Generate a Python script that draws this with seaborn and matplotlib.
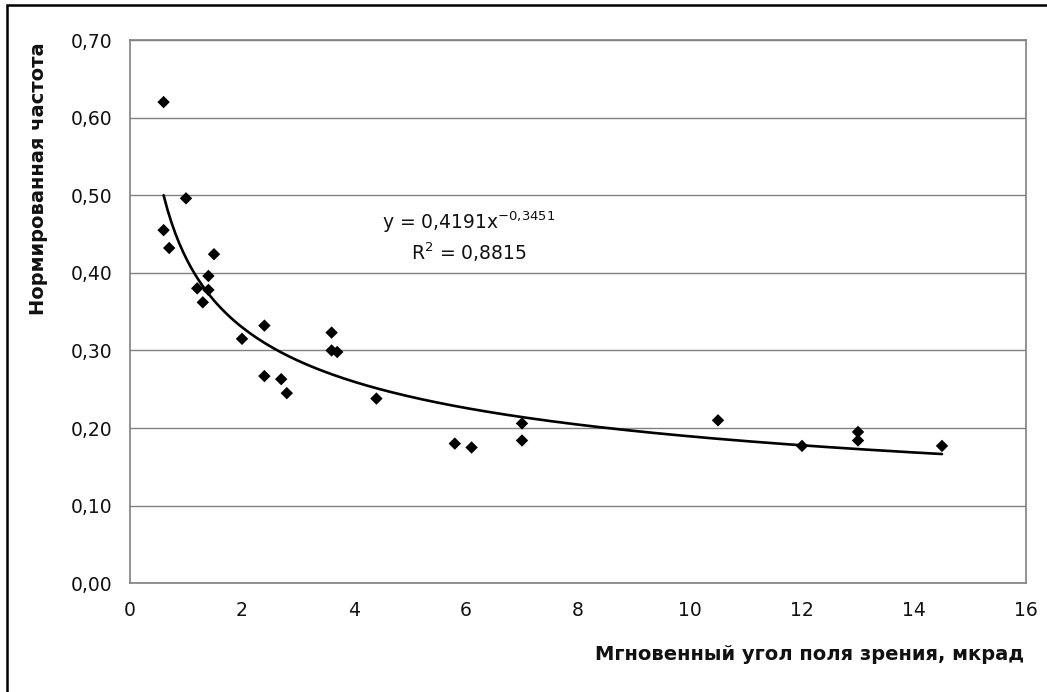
import numpy as np
import pandas as pd
import matplotlib
matplotlib.use("Agg")
import matplotlib.pyplot as plt
from matplotlib.patches import Rectangle
import seaborn as sns

# Measured points: instantaneous field-of-view angle (mrad) vs normalised frequency
angle_mrad = [0.6, 0.6, 0.7, 1.0, 1.2, 1.3, 1.4, 1.4, 1.5, 2.0, 2.4, 2.4, 2.7, 2.8,
              3.6, 3.6, 3.7, 4.4, 5.8, 6.1, 7.0, 7.0, 10.5, 12.0, 13.0, 13.0, 14.5]
norm_freq = [0.620, 0.455, 0.432, 0.496, 0.380, 0.362, 0.396, 0.378, 0.424, 0.315,
             0.332, 0.267, 0.263, 0.245, 0.323, 0.300, 0.298, 0.238, 0.180, 0.175,
             0.206, 0.184, 0.210, 0.177, 0.195, 0.184, 0.177]

# Power-law trend y = a * x^b
fit_a = 0.4191
fit_b = -0.3451
fit_r2 = 0.8815

x_ticks = [0, 2, 4, 6, 8, 10, 12, 14, 16]
y_ticks = [0.0, 0.1, 0.2, 0.3, 0.4, 0.5, 0.6, 0.7]

sns.set_theme(style="white")
plt.rcParams["font.family"] = ["DejaVu Sans"]
plt.rcParams["mathtext.fontset"] = "dejavusans"

W, H, DPI = 1047, 692, 100
fig = plt.figure(figsize=(W / DPI, H / DPI), dpi=DPI)
fig.patch.set_facecolor("white")

left, right, top, bottom = 130, 1026, 40, 583.3
ax = fig.add_axes([left / W, 1 - bottom / H, (right - left) / W, (bottom - top) / H])

df = pd.DataFrame({"angle": angle_mrad, "freq": norm_freq})

trend_x = np.linspace(min(angle_mrad), max(angle_mrad), 200)
trend = pd.DataFrame({"angle": trend_x, "freq": fit_a * trend_x ** fit_b})

sns.lineplot(data=trend, x="angle", y="freq", ax=ax, color="black",
             linewidth=1.9, zorder=3)
sns.scatterplot(data=df, x="angle", y="freq", ax=ax, marker="D", s=40,
                color="black", edgecolor="none", zorder=4)

ax.set_xlim(0, 16)
ax.set_ylim(0, 0.7)
ax.set_xticks(x_ticks)
ax.set_yticks(y_ticks)
ax.set_xticklabels([str(t) for t in x_ticks])
ax.set_yticklabels([f"{t:.2f}".replace(".", ",") for t in y_ticks])
ax.set_xlabel("")
ax.set_ylabel("")

ax.yaxis.grid(True, color="#808080", linewidth=1.0)
ax.xaxis.grid(False)
for sp in ax.spines.values():
    sp.set_color("#808080")
    sp.set_linewidth(1.2)
    sp.set_visible(True)

ax.tick_params(axis="both", which="major", direction="out", length=4.5,
               width=1.0, color="#808080", labelsize=13.5, labelcolor="#111111")
ax.tick_params(axis="x", pad=8)
ax.tick_params(axis="y", pad=8)

ax.text(0.378, 0.665, r"y = 0,4191x$^{-0{,}3451}$", transform=ax.transAxes,
        ha="center", va="center", fontsize=13.5, color="#111111")
ax.text(0.378, 0.610, r"R$^{2}$ = " + f"{fit_r2:.4f}".replace(".", ","),
        transform=ax.transAxes, ha="center", va="center", fontsize=13.5,
        color="#111111")

fig.text(38.5 / W, 1 - 179 / H, "Нормированная частота", rotation=90,
         ha="center", va="center", fontsize=14, fontweight="bold", color="#111111")
fig.text(1024 / W, 1 - 654 / H, "Мгновенный угол поля зрения, мкрад",
         ha="right", va="center", fontsize=14, fontweight="bold", color="#111111")

# outer frame of the chart area
fig.patches.append(Rectangle((7 / W, -0.05), 1.2, 1 - 4.5 / H + 0.05,
                             transform=fig.transFigure, fill=False,
                             edgecolor="black", linewidth=1.8))

fig.savefig("out.png", dpi=DPI, facecolor="white")
